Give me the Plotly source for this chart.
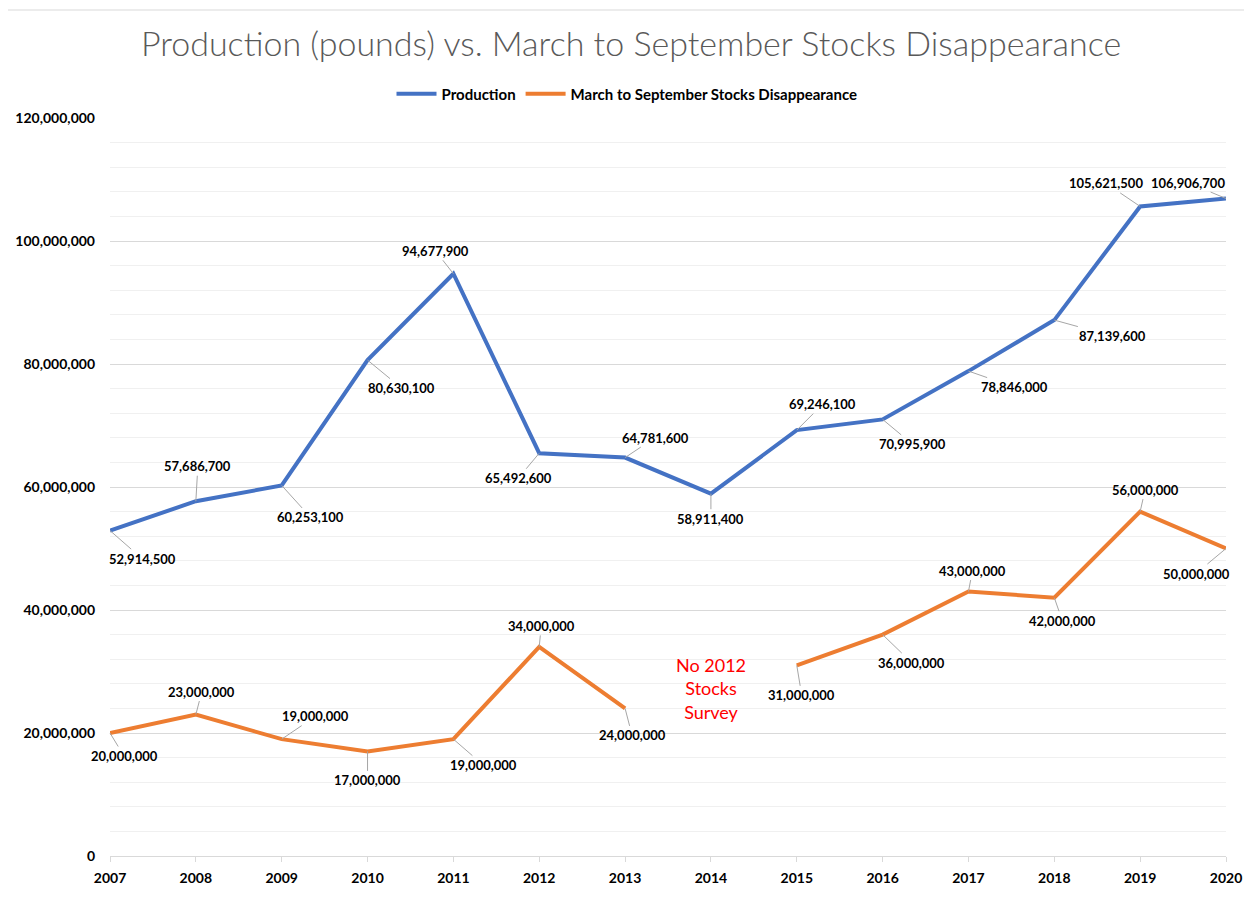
import plotly.graph_objects as go

years = [2007, 2008, 2009, 2010, 2011, 2012, 2013, 2014, 2015, 2016, 2017, 2018, 2019, 2020]
production = [52914500, 57686700, 60253100, 80630100, 94677900, 65492600, 64781600,
              58911400, 69246100, 70995900, 78846000, 87139600, 105621500, 106906700]
disappearance = [20000000, 23000000, 19000000, 17000000, 19000000, 34000000, 24000000,
                 None, 31000000, 36000000, 43000000, 42000000, 56000000, 50000000]
y_ticks = [0, 20000000, 40000000, 60000000, 80000000, 100000000, 120000000]

# label offsets (pixels) for data labels
prod_off = [(32, 28), (2, -35), (29, 32), (34, 28), (-18, -23), (-21, 25), (30, -20),
            (0, 25), (26, -26), (30, 25), (46, 16), (58, 16), (-34, -23), (-38, -16)]
dis_off = [(14, 23), (6, -23), (34, -23), (0, 29), (30, 26), (2, -21), (7, 27),
           None, (5, 30), (29, 28), (4, -21), (8, 23), (5, -22), (-30, 25)]

BLUE = "#4472C4"
ORANGE = "#ED7D31"
FONT = "Lato"

W, H = 1244, 893
L, R, T, B = 102, 26, 110, 45
PW = W - L - R
PH = H - T - B

fig = go.Figure()
fig.add_trace(go.Scatter(x=years, y=production, mode="lines", name="Production",
                         line=dict(color=BLUE, width=4), cliponaxis=False))
fig.add_trace(go.Scatter(x=years, y=disappearance, mode="lines",
                         name="March to September Stocks Disappearance",
                         line=dict(color=ORANGE, width=4), cliponaxis=False,
                         connectgaps=False))

annotations = []
for series, offs in ((production, prod_off), (disappearance, dis_off)):
    for x, v, o in zip(years, series, offs):
        if v is None or o is None:
            continue
        annotations.append(dict(x=x, y=v, text=f"{v:,}", showarrow=True, arrowhead=0,
                                arrowwidth=1, arrowcolor="#A6A6A6", ax=o[0], ay=o[1],
                                standoff=0, startstandoff=0,
                                font=dict(family=FONT, size=13, color="#000000", weight="bold")))

annotations.append(dict(x=2014, y=27300000, text="No 2012<br>Stocks<br>Survey", showarrow=False,
                        font=dict(family=FONT, size=18, color="#FF0000"), align="center"))

fig.update_layout(
    width=W, height=H,
    margin=dict(l=L, r=R, t=T, b=B, autoexpand=False),
    paper_bgcolor="white", plot_bgcolor="white",
    title=dict(text="Production (pounds) vs. March to September Stocks Disappearance",
               x=(623 - L) / PW, xref="paper", xanchor="center",
               yref="container", y=1 - 36 / H, yanchor="middle",
               font=dict(family=FONT, size=34, color="#595959", weight=300)),
    legend=dict(orientation="h", x=(619 - L) / PW, xanchor="center", xref="paper",
                y=1.0 + 24 / PH, yanchor="middle",
                font=dict(family=FONT, size=15, color="#000000", weight="bold"),
                itemwidth=40, bgcolor="rgba(0,0,0,0)"),
    annotations=annotations,
    shapes=[dict(type="rect", xref="paper", yref="paper",
                 x0=-(L + 1) / PW, x1=(W + 20 - L) / PW,
                 y0=-(B + 20) / PH, y1=1 + (T - 2) / PH,
                 line=dict(color="#D9D9D9", width=1), layer="below")],
    showlegend=True,
)

fig.update_xaxes(range=[2007, 2020], tickmode="array", tickvals=years,
                 ticktext=[str(y) for y in years], showgrid=False, zeroline=False,
                 showline=True, linecolor="#D9D9D9", linewidth=1, automargin=False,
                 ticks="outside", ticklen=5, tickcolor="#D9D9D9", ticklabelstandoff=4,
                 tickfont=dict(family=FONT, size=14, color="#000000", weight="bold"))
fig.update_yaxes(range=[0, 120000000], tickmode="array", tickvals=y_ticks,
                 ticktext=[f"{v:,}" for v in y_ticks], showgrid=True, automargin=False,
                 gridcolor="#D9D9D9", gridwidth=1, zeroline=False, showline=False,
                 ticks="", ticklabelstandoff=14,
                 minor=dict(dtick=4000000, showgrid=True, gridcolor="#F0F0F0", gridwidth=1),
                 tickfont=dict(family=FONT, size=14, color="#000000", weight="bold"))

fig.write_html("out.html")
